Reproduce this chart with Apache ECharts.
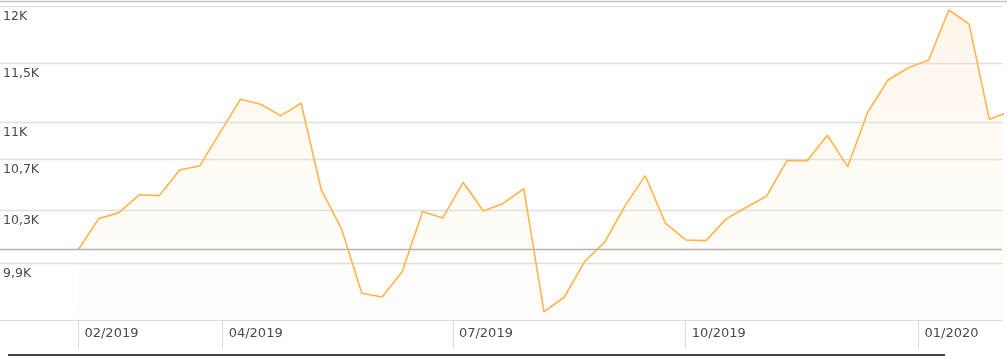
<!DOCTYPE html>
<html><head><meta charset="utf-8">
<script src="https://cdn.jsdelivr.net/npm/echarts@6/dist/echarts.min.js"></script>
<style>html,body{margin:0;padding:0;background:#fff}#c{width:1007px;height:356px}</style>
</head><body><div id="c"></div>
<script>
const dates = ['2019-02-03','2019-02-11','2019-02-19','2019-02-27','2019-03-07','2019-03-15','2019-03-23','2019-03-31',
 '2019-04-08','2019-04-16','2019-04-24','2019-05-02','2019-05-10','2019-05-18','2019-05-26','2019-06-03',
 '2019-06-11','2019-06-19','2019-06-27','2019-07-05','2019-07-13','2019-07-21','2019-07-29','2019-08-06',
 '2019-08-14','2019-08-22','2019-08-30','2019-09-07','2019-09-15','2019-09-23','2019-10-01','2019-10-09',
 '2019-10-17','2019-10-25','2019-11-02','2019-11-10','2019-11-18','2019-11-26','2019-12-04','2019-12-12',
 '2019-12-20','2019-12-28','2020-01-05','2020-01-13','2020-01-21','2020-01-29','2020-02-06'];
const values = [10000,10234,10280,10418,10412,10614,10648,10916,
 11190,11149,11054,11157,10456,10155,9678,9651,
 9836,10288,10239,10516,10293,10353,10466,9546,
 9649,9910,10055,10332,10569,10199,10072,10067,
 10232,10322,10409,10688,10688,10893,10640,11087,
 11353,11458,11525,11964,11839,11024,11089];
const yTickValues = [9900,10300,10700,11000,11500,12000];
const yTickLabels = ['9,9K','10,3K','10,7K','11K','11,5K','12K'];
const xTickDates = ['2019-02-03','2019-04-01','2019-07-01','2019-10-01','2020-01-01'];
const xTickLabels = ['02/2019','04/2019','07/2019','10/2019','01/2020'];
const baseline = 10000;
const yMin = 9486, yMax = 12036;
const xMin = '2019-01-03', xMax = '2020-02-03';

const ts = d => echarts.time.parse(d).getTime();
const chart = echarts.init(document.getElementById('c'), null, {renderer:'canvas'});
const FONT = 'DejaVu Sans';
const xTickTs = xTickDates.map(ts);
chart.setOption({
  animation:false,
  backgroundColor:'#fff',
  grid:{left:0,right:5,top:2,bottom:36,containLabel:false},
  xAxis:{
    type:'value', min:ts(xMin), max:ts(xMax), scale:true,
    axisLine:{show:true,lineStyle:{color:'#dcdcdc',width:1}},
    axisTick:{show:true,length:28,lineStyle:{color:'#dcdcdc'},customValues:xTickTs},
    splitLine:{show:false},
    axisLabel:{customValues:xTickTs, align:'left', margin:7, padding:[0,0,0,6],
      fontFamily:FONT, fontSize:13, color:'#4a4a4a', hideOverlap:false,
      formatter:function(v){
        let best=0, bd=Infinity;
        xTickTs.forEach((t,i)=>{const d=Math.abs(t-v); if(d<bd){bd=d;best=i;}});
        return xTickLabels[best];
      }}
  },
  yAxis:{
    type:'log', logBase:10, min:yMin, max:yMax,
    axisLine:{show:false}, axisTick:{show:false, customValues:yTickValues},
    splitLine:{show:true,lineStyle:{color:'#dedede',width:1.3}},
    axisLabel:{customValues:yTickValues, inside:true, margin:3, verticalAlign:'top', padding:[4,0,0,0],
      fontFamily:FONT, fontSize:12.5, color:'#4a4a4a',
      formatter:function(v){
        let best=0, bd=Infinity;
        yTickValues.forEach((t,i)=>{const d=Math.abs(t-v); if(d<bd){bd=d;best=i;}});
        return yTickLabels[best];
      }}
  },
  series:[{
    type:'line',
    data:dates.map((d,i)=>[ts(d),values[i]]),
    showSymbol:false, symbol:'none', clip:true,
    lineStyle:{color:'#ffb54a',width:1.6},
    areaStyle:{origin:'start',color:{type:'linear',x:0,y:0,x2:0,y2:1,colorStops:[
      {offset:0,color:'rgba(252,220,175,0.38)'},{offset:1,color:'rgba(252,235,215,0.12)'}]}},
    markLine:{silent:true,symbol:'none',label:{show:false},
      lineStyle:{color:'#b4b4b4',type:'solid',width:1.3},
      data:[{yAxis:baseline}]}
  }],
  graphic:[
    {type:'line',shape:{x1:0,y1:1.5,x2:1007,y2:1.5},style:{stroke:'#c4c4c4',lineWidth:1.5},silent:true},
    {type:'line',shape:{x1:8,y1:355,x2:945,y2:355},style:{stroke:'#444',lineWidth:2},silent:true}
  ]
});
</script></body></html>
